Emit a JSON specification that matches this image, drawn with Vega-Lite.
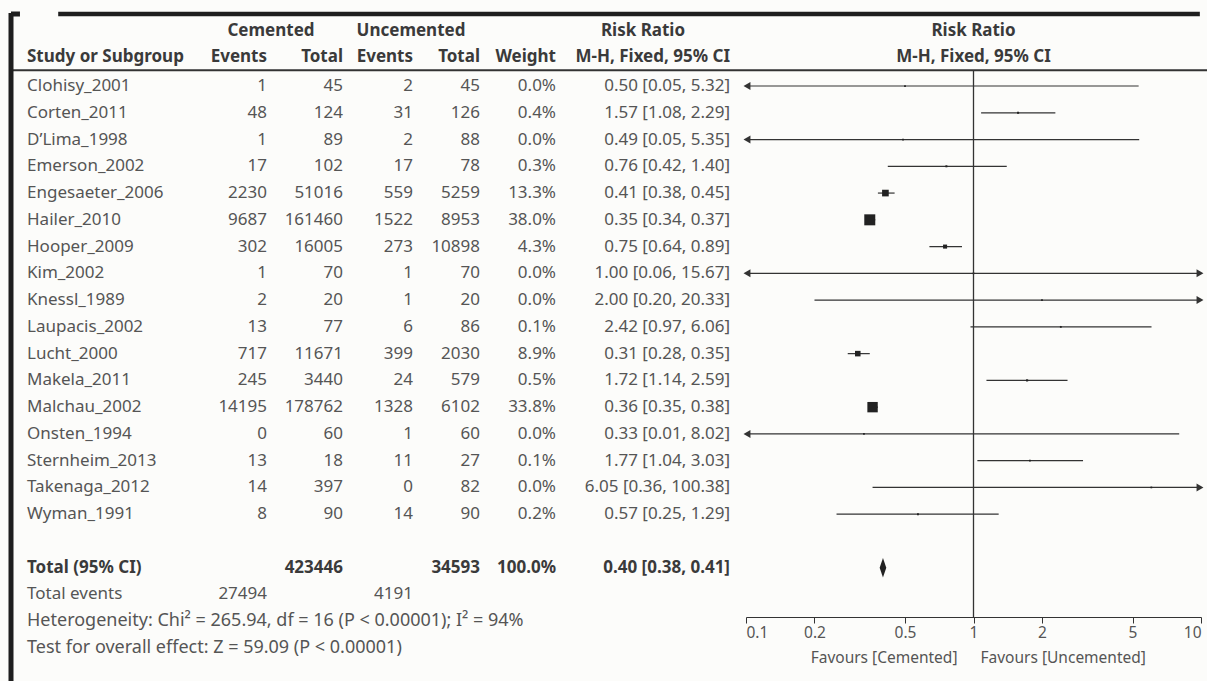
{
  "$schema": "https://vega.github.io/schema/vega-lite/v6.json",
  "usermeta": {"embedOptions": {"actions": false}},
  "width": 1197,
  "height": 668,
  "autosize": {"type": "none"},
  "padding": {"left": 10, "top": 13, "right": 0, "bottom": 0},
  "background": "#fcfcfa",
  "config": {
    "view": {"stroke": null},
    "axis": {"grid": false},
    "text": {"font": "Noto Sans", "fontSize": 17, "color": "#555555"}
  },
  "datasets": {
    "studies": [
      {"study": "Clohisy_2001", "ce": 1, "ct": 45, "ue": 2, "ut": 45, "w": 0.000, "rr": 0.50, "lo": 0.05, "hi": 5.32, "ci": "0.50 [0.05, 5.32]"},
      {"study": "Corten_2011", "ce": 48, "ct": 124, "ue": 31, "ut": 126, "w": 0.004, "rr": 1.57, "lo": 1.08, "hi": 2.29, "ci": "1.57 [1.08, 2.29]"},
      {"study": "D’Lima_1998", "ce": 1, "ct": 89, "ue": 2, "ut": 88, "w": 0.000, "rr": 0.49, "lo": 0.05, "hi": 5.35, "ci": "0.49 [0.05, 5.35]"},
      {"study": "Emerson_2002", "ce": 17, "ct": 102, "ue": 17, "ut": 78, "w": 0.003, "rr": 0.76, "lo": 0.42, "hi": 1.40, "ci": "0.76 [0.42, 1.40]"},
      {"study": "Engesaeter_2006", "ce": 2230, "ct": 51016, "ue": 559, "ut": 5259, "w": 0.133, "rr": 0.41, "lo": 0.38, "hi": 0.45, "ci": "0.41 [0.38, 0.45]"},
      {"study": "Hailer_2010", "ce": 9687, "ct": 161460, "ue": 1522, "ut": 8953, "w": 0.380, "rr": 0.35, "lo": 0.34, "hi": 0.37, "ci": "0.35 [0.34, 0.37]"},
      {"study": "Hooper_2009", "ce": 302, "ct": 16005, "ue": 273, "ut": 10898, "w": 0.043, "rr": 0.75, "lo": 0.64, "hi": 0.89, "ci": "0.75 [0.64, 0.89]"},
      {"study": "Kim_2002", "ce": 1, "ct": 70, "ue": 1, "ut": 70, "w": 0.000, "rr": 1.00, "lo": 0.06, "hi": 15.67, "ci": "1.00 [0.06, 15.67]"},
      {"study": "Knessl_1989", "ce": 2, "ct": 20, "ue": 1, "ut": 20, "w": 0.000, "rr": 2.00, "lo": 0.20, "hi": 20.33, "ci": "2.00 [0.20, 20.33]"},
      {"study": "Laupacis_2002", "ce": 13, "ct": 77, "ue": 6, "ut": 86, "w": 0.001, "rr": 2.42, "lo": 0.97, "hi": 6.06, "ci": "2.42 [0.97, 6.06]"},
      {"study": "Lucht_2000", "ce": 717, "ct": 11671, "ue": 399, "ut": 2030, "w": 0.089, "rr": 0.31, "lo": 0.28, "hi": 0.35, "ci": "0.31 [0.28, 0.35]"},
      {"study": "Makela_2011", "ce": 245, "ct": 3440, "ue": 24, "ut": 579, "w": 0.005, "rr": 1.72, "lo": 1.14, "hi": 2.59, "ci": "1.72 [1.14, 2.59]"},
      {"study": "Malchau_2002", "ce": 14195, "ct": 178762, "ue": 1328, "ut": 6102, "w": 0.338, "rr": 0.36, "lo": 0.35, "hi": 0.38, "ci": "0.36 [0.35, 0.38]"},
      {"study": "Onsten_1994", "ce": 0, "ct": 60, "ue": 1, "ut": 60, "w": 0.000, "rr": 0.33, "lo": 0.01, "hi": 8.02, "ci": "0.33 [0.01, 8.02]"},
      {"study": "Sternheim_2013", "ce": 13, "ct": 18, "ue": 11, "ut": 27, "w": 0.001, "rr": 1.77, "lo": 1.04, "hi": 3.03, "ci": "1.77 [1.04, 3.03]"},
      {"study": "Takenaga_2012", "ce": 14, "ct": 397, "ue": 0, "ut": 82, "w": 0.000, "rr": 6.05, "lo": 0.36, "hi": 100.38, "ci": "6.05 [0.36, 100.38]"},
      {"study": "Wyman_1991", "ce": 8, "ct": 90, "ue": 14, "ut": 90, "w": 0.002, "rr": 0.57, "lo": 0.25, "hi": 1.29, "ci": "0.57 [0.25, 1.29]"}
    ],
    "total": [
      {"label": "Total (95% CI)", "ce": 27494, "ct": 423446, "ue": 4191, "ut": 34593, "w": 1.0, "rr": 0.40, "lo": 0.38, "hi": 0.41, "ci": "0.40 [0.38, 0.41]"}
    ],
    "notes": [
      {"row": "Heterogeneity", "text": "Heterogeneity: Chi² = 265.94, df = 16 (P < 0.00001); I² = 94%"},
      {"row": "Overall effect", "text": "Test for overall effect: Z = 59.09 (P < 0.00001)"}
    ],
    "one": [{}]
  },
  "resolve": {"scale": {"x": "independent"}},
  "layer": [
    {
      "layer": [
        {
          "data": {"name": "studies"},
          "mark": {"type": "text", "align": "left"},
          "encoding": {
            "x": {"datum": 0, "type": "quantitative", "axis": null,
                  "scale": {"type": "linear", "domain": [-1, 0, 1, 2, 3, 4, 5, 6, 7], "range": [1, 17, 257, 333, 403, 470, 546, 720, 1197], "nice": false, "zero": false}},
            "y": {"field": "study", "type": "nominal", "axis": null,
                  "scale": {"type": "point", "padding": 0, "range": [19.5, 635],
                            "domain": ["header1", "header2", "Clohisy_2001", "Corten_2011", "D’Lima_1998", "Emerson_2002", "Engesaeter_2006", "Hailer_2010", "Hooper_2009", "Kim_2002", "Knessl_1989", "Laupacis_2002", "Lucht_2000", "Makela_2011", "Malchau_2002", "Onsten_1994", "Sternheim_2013", "Takenaga_2012", "Wyman_1991", "gap", "Total (95% CI)", "Total events", "Heterogeneity", "Overall effect"]}},
            "text": {"field": "study"}
          }
        },
        {
          "data": {"name": "studies"},
          "mark": {"type": "text", "align": "right"},
          "encoding": {
            "x": {"datum": 1, "type": "quantitative", "axis": null},
            "y": {"field": "study", "type": "nominal", "axis": null},
            "text": {"field": "ce", "type": "quantitative", "format": "d"}
          }
        },
        {
          "data": {"name": "studies"},
          "mark": {"type": "text", "align": "right"},
          "encoding": {
            "x": {"datum": 2, "type": "quantitative", "axis": null},
            "y": {"field": "study", "type": "nominal", "axis": null},
            "text": {"field": "ct", "type": "quantitative", "format": "d"}
          }
        },
        {
          "data": {"name": "studies"},
          "mark": {"type": "text", "align": "right"},
          "encoding": {
            "x": {"datum": 3, "type": "quantitative", "axis": null},
            "y": {"field": "study", "type": "nominal", "axis": null},
            "text": {"field": "ue", "type": "quantitative", "format": "d"}
          }
        },
        {
          "data": {"name": "studies"},
          "mark": {"type": "text", "align": "right"},
          "encoding": {
            "x": {"datum": 4, "type": "quantitative", "axis": null},
            "y": {"field": "study", "type": "nominal", "axis": null},
            "text": {"field": "ut", "type": "quantitative", "format": "d"}
          }
        },
        {
          "data": {"name": "studies"},
          "mark": {"type": "text", "align": "right"},
          "encoding": {
            "x": {"datum": 5, "type": "quantitative", "axis": null},
            "y": {"field": "study", "type": "nominal", "axis": null},
            "text": {"field": "w", "type": "quantitative", "format": ".1%"}
          }
        },
        {
          "data": {"name": "studies"},
          "mark": {"type": "text", "align": "right"},
          "encoding": {
            "x": {"datum": 6, "type": "quantitative", "axis": null},
            "y": {"field": "study", "type": "nominal", "axis": null},
            "text": {"field": "ci"}
          }
        },
        {
          "data": {"name": "total"},
          "mark": {"type": "text", "align": "left", "fontWeight": "bold", "color": "#3a3a3a"},
          "encoding": {
            "x": {"datum": 0, "type": "quantitative", "axis": null},
            "y": {"datum": "Total (95% CI)", "type": "nominal", "axis": null},
            "text": {"field": "label"}
          }
        },
        {
          "data": {"name": "total"},
          "mark": {"type": "text", "align": "right", "fontWeight": "bold", "color": "#3a3a3a"},
          "encoding": {
            "x": {"datum": 2, "type": "quantitative", "axis": null},
            "y": {"datum": "Total (95% CI)", "type": "nominal", "axis": null},
            "text": {"field": "ct", "type": "quantitative", "format": "d"}
          }
        },
        {
          "data": {"name": "total"},
          "mark": {"type": "text", "align": "right", "fontWeight": "bold", "color": "#3a3a3a"},
          "encoding": {
            "x": {"datum": 4, "type": "quantitative", "axis": null},
            "y": {"datum": "Total (95% CI)", "type": "nominal", "axis": null},
            "text": {"field": "ut", "type": "quantitative", "format": "d"}
          }
        },
        {
          "data": {"name": "total"},
          "mark": {"type": "text", "align": "right", "fontWeight": "bold", "color": "#3a3a3a"},
          "encoding": {
            "x": {"datum": 5, "type": "quantitative", "axis": null},
            "y": {"datum": "Total (95% CI)", "type": "nominal", "axis": null},
            "text": {"field": "w", "type": "quantitative", "format": ".1%"}
          }
        },
        {
          "data": {"name": "total"},
          "mark": {"type": "text", "align": "right", "fontWeight": "bold", "color": "#3a3a3a"},
          "encoding": {
            "x": {"datum": 6, "type": "quantitative", "axis": null},
            "y": {"datum": "Total (95% CI)", "type": "nominal", "axis": null},
            "text": {"field": "ci"}
          }
        },
        {
          "data": {"name": "total"},
          "mark": {"type": "text", "align": "left", "text": "Total events"},
          "encoding": {
            "x": {"datum": 0, "type": "quantitative", "axis": null},
            "y": {"datum": "Total events", "type": "nominal", "axis": null}
          }
        },
        {
          "data": {"name": "total"},
          "mark": {"type": "text", "align": "right"},
          "encoding": {
            "x": {"datum": 1, "type": "quantitative", "axis": null},
            "y": {"datum": "Total events", "type": "nominal", "axis": null},
            "text": {"field": "ce", "type": "quantitative", "format": "d"}
          }
        },
        {
          "data": {"name": "total"},
          "mark": {"type": "text", "align": "right"},
          "encoding": {
            "x": {"datum": 3, "type": "quantitative", "axis": null},
            "y": {"datum": "Total events", "type": "nominal", "axis": null},
            "text": {"field": "ue", "type": "quantitative", "format": "d"}
          }
        },
        {
          "data": {"name": "notes"},
          "mark": {"type": "text", "align": "left", "fontSize": 18},
          "encoding": {
            "x": {"datum": 0, "type": "quantitative", "axis": null},
            "y": {"field": "row", "type": "nominal", "axis": null},
            "text": {"field": "text"}
          }
        },
        {
          "data": {"name": "one"},
          "mark": {"type": "text", "align": "center", "fontWeight": "bold", "color": "#3a3a3a", "text": "Cemented", "dx": 4, "dy": -1.5},
          "encoding": {
            "x": {"datum": 1, "type": "quantitative", "axis": null},
            "y": {"datum": "header1", "type": "nominal", "axis": null}
          }
        },
        {
          "data": {"name": "one"},
          "mark": {"type": "text", "align": "center", "fontWeight": "bold", "color": "#3a3a3a", "text": "Uncemented", "dx": -2, "dy": -1.5},
          "encoding": {
            "x": {"datum": 3, "type": "quantitative", "axis": null},
            "y": {"datum": "header1", "type": "nominal", "axis": null}
          }
        },
        {
          "data": {"name": "one"},
          "mark": {"type": "text", "align": "center", "fontWeight": "bold", "color": "#3a3a3a", "text": "Risk Ratio", "dy": -1.5},
          "encoding": {
            "x": {"datum": 5.5, "type": "quantitative", "axis": null},
            "y": {"datum": "header1", "type": "nominal", "axis": null}
          }
        },
        {
          "data": {"name": "one"},
          "mark": {"type": "text", "align": "left", "fontWeight": "bold", "color": "#3a3a3a", "text": "Study or Subgroup", "dy": -2},
          "encoding": {
            "x": {"datum": 0, "type": "quantitative", "axis": null},
            "y": {"datum": "header2", "type": "nominal", "axis": null}
          }
        },
        {
          "data": {"name": "one"},
          "mark": {"type": "text", "align": "right", "fontWeight": "bold", "color": "#3a3a3a", "text": "Events", "dy": -2},
          "encoding": {
            "x": {"datum": 1, "type": "quantitative", "axis": null},
            "y": {"datum": "header2", "type": "nominal", "axis": null}
          }
        },
        {
          "data": {"name": "one"},
          "mark": {"type": "text", "align": "right", "fontWeight": "bold", "color": "#3a3a3a", "text": "Total", "dy": -2},
          "encoding": {
            "x": {"datum": 2, "type": "quantitative", "axis": null},
            "y": {"datum": "header2", "type": "nominal", "axis": null}
          }
        },
        {
          "data": {"name": "one"},
          "mark": {"type": "text", "align": "right", "fontWeight": "bold", "color": "#3a3a3a", "text": "Events", "dy": -2},
          "encoding": {
            "x": {"datum": 3, "type": "quantitative", "axis": null},
            "y": {"datum": "header2", "type": "nominal", "axis": null}
          }
        },
        {
          "data": {"name": "one"},
          "mark": {"type": "text", "align": "right", "fontWeight": "bold", "color": "#3a3a3a", "text": "Total", "dy": -2},
          "encoding": {
            "x": {"datum": 4, "type": "quantitative", "axis": null},
            "y": {"datum": "header2", "type": "nominal", "axis": null}
          }
        },
        {
          "data": {"name": "one"},
          "mark": {"type": "text", "align": "right", "fontWeight": "bold", "color": "#3a3a3a", "text": "Weight", "dy": -2},
          "encoding": {
            "x": {"datum": 5, "type": "quantitative", "axis": null},
            "y": {"datum": "header2", "type": "nominal", "axis": null}
          }
        },
        {
          "data": {"name": "one"},
          "mark": {"type": "text", "align": "right", "fontWeight": "bold", "color": "#3a3a3a", "text": "M-H, Fixed, 95% CI", "dy": -2},
          "encoding": {
            "x": {"datum": 6, "type": "quantitative", "axis": null},
            "y": {"datum": "header2", "type": "nominal", "axis": null}
          }
        },
        {
          "data": {"name": "one"},
          "mark": {"type": "rule", "color": "#333333", "strokeWidth": 2, "yOffset": 11},
          "encoding": {
            "y": {"datum": "header2", "type": "nominal", "axis": null}
          }
        },
        {
          "data": {"name": "one"},
          "mark": {"type": "rule", "color": "#1e1e1e", "strokeWidth": 5, "yOffset": -18.5},
          "encoding": {
            "x": {"datum": -1, "type": "quantitative", "axis": null},
            "x2": {"datum": -0.44},
            "y": {"datum": "header1", "type": "nominal", "axis": null}
          }
        },
        {
          "data": {"name": "one"},
          "mark": {"type": "rule", "color": "#1e1e1e", "strokeWidth": 4.5, "yOffset": -18.5},
          "encoding": {
            "x": {"datum": 0.13, "type": "quantitative", "axis": null},
            "x2": {"datum": 6.985},
            "y": {"datum": "header1", "type": "nominal", "axis": null}
          }
        },
        {
          "data": {"name": "one"},
          "mark": {"type": "rule", "color": "#1e1e1e", "strokeWidth": 5},
          "encoding": {
            "x": {"datum": -1, "type": "quantitative", "axis": null}
          }
        }
      ]
    },
    {
      "layer": [
        {
          "data": {"name": "studies"},
          "mark": {"type": "rule", "color": "#333333", "strokeWidth": 1.2},
          "encoding": {
            "x": {"field": "lo", "type": "quantitative",
                  "scale": {"type": "log", "domain": [0.1, 10], "range": [736, 1191], "clamp": true, "nice": false, "zero": false},
                  "axis": {"values": [0.1, 0.2, 0.5, 1, 2, 5, 10], "format": "~g", "orient": "bottom", "offset": -64, "title": null,
                           "domainColor": "#333333", "tickColor": "#333333", "labelColor": "#555555", "labelFont": "Noto Sans",
                           "labelFontSize": 15.5, "tickSize": 6, "labelPadding": 2, "labelOverlap": false}},
            "x2": {"field": "hi"},
            "y": {"field": "study", "type": "nominal", "axis": null}
          }
        },
        {
          "data": {"name": "studies"},
          "mark": {"type": "point", "shape": "square", "filled": true, "color": "#222222", "opacity": 1},
          "encoding": {
            "x": {"field": "rr", "type": "quantitative"},
            "y": {"field": "study", "type": "nominal", "axis": null},
            "size": {"field": "w", "type": "quantitative", "scale": {"domain": [0, 0.38], "range": [3, 121]}, "legend": null}
          }
        },
        {
          "data": {"name": "studies"},
          "transform": [{"filter": "datum.lo < 0.1"}],
          "mark": {"type": "point", "shape": "triangle-left", "filled": true, "color": "#333333", "opacity": 1, "size": 64, "xOffset": 1},
          "encoding": {
            "x": {"field": "lo", "type": "quantitative"},
            "y": {"field": "study", "type": "nominal", "axis": null}
          }
        },
        {
          "data": {"name": "studies"},
          "transform": [{"filter": "datum.hi > 10"}],
          "mark": {"type": "point", "shape": "triangle-right", "filled": true, "color": "#333333", "opacity": 1, "size": 64, "xOffset": -1},
          "encoding": {
            "x": {"field": "hi", "type": "quantitative"},
            "y": {"field": "study", "type": "nominal", "axis": null}
          }
        },
        {
          "data": {"name": "one"},
          "mark": {"type": "rule", "color": "#333333", "strokeWidth": 1.3, "yOffset": 11, "y2Offset": -4},
          "encoding": {
            "x": {"datum": 1, "type": "quantitative"},
            "y": {"datum": "header2", "type": "nominal", "axis": null},
            "y2": {"datum": "Heterogeneity"}
          }
        },
        {
          "data": {"name": "total"},
          "mark": {"type": "point", "shape": "M0,-1L0.34,0L0,1L-0.34,0Z", "filled": true, "color": "#222222", "opacity": 1, "size": 380},
          "encoding": {
            "x": {"field": "rr", "type": "quantitative"},
            "y": {"datum": "Total (95% CI)", "type": "nominal", "axis": null}
          }
        },
        {
          "data": {"name": "one"},
          "mark": {"type": "text", "align": "center", "fontWeight": "bold", "color": "#3a3a3a", "text": "Risk Ratio", "dy": -1.5},
          "encoding": {
            "x": {"datum": 1, "type": "quantitative"},
            "y": {"datum": "header1", "type": "nominal", "axis": null}
          }
        },
        {
          "data": {"name": "one"},
          "mark": {"type": "text", "align": "center", "fontWeight": "bold", "color": "#3a3a3a", "text": "M-H, Fixed, 95% CI", "dy": -2},
          "encoding": {
            "x": {"datum": 1, "type": "quantitative"},
            "y": {"datum": "header2", "type": "nominal", "axis": null}
          }
        },
        {
          "data": {"name": "one"},
          "mark": {"type": "text", "align": "right", "fontSize": 15.5, "text": "Favours [Cemented]", "dx": -16, "dy": 10},
          "encoding": {
            "x": {"datum": 1, "type": "quantitative"},
            "y": {"datum": "Overall effect", "type": "nominal", "axis": null}
          }
        },
        {
          "data": {"name": "one"},
          "mark": {"type": "text", "align": "left", "fontSize": 15.5, "text": "Favours [Uncemented]", "dx": 7, "dy": 10},
          "encoding": {
            "x": {"datum": 1, "type": "quantitative"},
            "y": {"datum": "Overall effect", "type": "nominal", "axis": null}
          }
        }
      ]
    }
  ]
}
